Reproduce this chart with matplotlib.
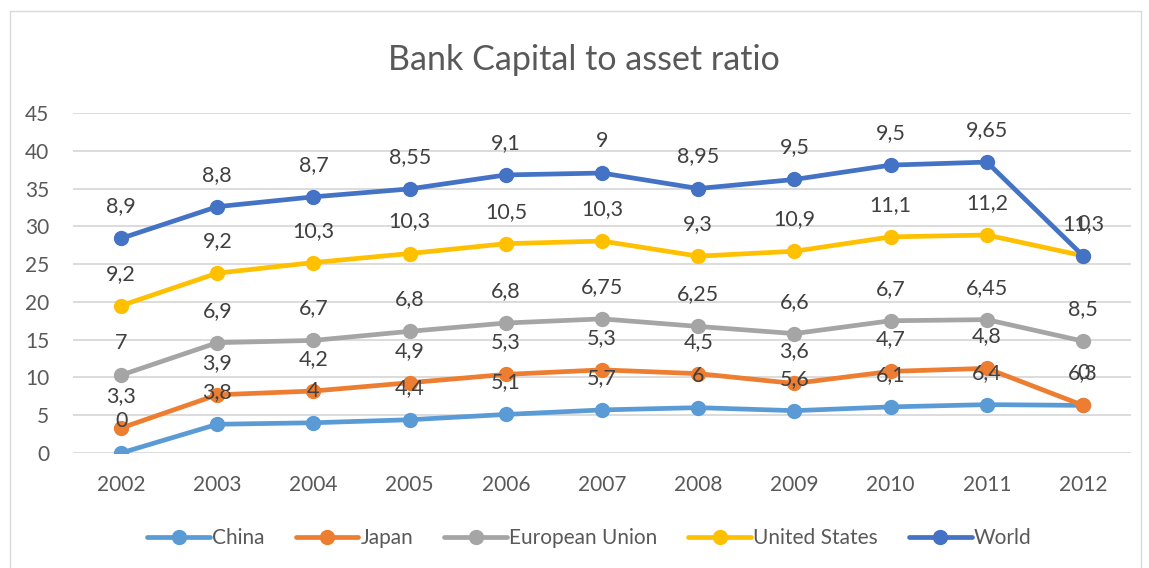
import numpy as np
import matplotlib.pyplot as plt
from matplotlib.patches import Rectangle

plt.rcParams['font.family'] = ['Lato', 'DejaVu Sans']

years = ["2002", "2003", "2004", "2005", "2006", "2007", "2008", "2009", "2010", "2011", "2012"]

china = [0, 3.8, 4, 4.4, 5.1, 5.7, 6, 5.6, 6.1, 6.4, 6.3]
japan = [3.3, 3.9, 4.2, 4.9, 5.3, 5.3, 4.5, 3.6, 4.7, 4.8, 0]
eu = [7, 6.9, 6.7, 6.8, 6.8, 6.75, 6.25, 6.6, 6.7, 6.45, 8.5]
us = [9.2, 9.2, 10.3, 10.3, 10.5, 10.3, 9.3, 10.9, 11.1, 11.2, 11.3]
world = [8.9, 8.8, 8.7, 8.55, 9.1, 9, 8.95, 9.5, 9.5, 9.65, 0]

series = [
    ("China", china, "#5B9BD5"),
    ("Japan", japan, "#ED7D31"),
    ("European Union", eu, "#A5A5A5"),
    ("United States", us, "#FFC000"),
    ("World", world, "#4472C4"),
]

text_color = "#595959"


def fmt(v):
    s = f"{v:g}"
    return s.replace(".", ",")


fig = plt.figure(figsize=(11.49, 5.68), dpi=100)
ax = fig.add_axes([0.0635, 0.2025, 0.921, 0.5986])

x = np.arange(len(years))
bottom = np.zeros(len(years))
for name, vals, color in series:
    top = bottom + np.array(vals)
    ax.plot(x, top, color=color, lw=3.4, marker="o", ms=10, label=name,
            solid_capstyle="round", zorder=3)
    # Excel-style labels: value of the series, placed above the stacked point
    for xi, yi, v in zip(x, top, vals):
        ax.annotate(fmt(v), (xi, yi), xytext=(0, 23), textcoords="offset points",
                    ha="center", va="center", fontsize=15.5, color="#404040", zorder=4)
    bottom = top

ax.set_xlim(-0.5, len(years) - 0.5)
ax.set_ylim(0, 45)
ax.set_yticks(range(0, 46, 5))
ax.set_xticks(x)
ax.set_xticklabels(years)
ax.grid(axis="y", color="#D9D9D9", lw=1.3)
ax.set_axisbelow(True)
for s in ax.spines.values():
    s.set_visible(False)
ax.tick_params(length=0, labelsize=15, colors=text_color)
ax.tick_params(axis="x", pad=16)
ax.tick_params(axis="y", pad=17)

fig.text(0.508, 0.895, "Bank Capital to asset ratio", ha="center", va="center",
         fontsize=24.5, color=text_color)

fig.legend(loc="center", bbox_to_anchor=(0.513, 0.053), ncol=5, frameon=False,
           fontsize=15, labelcolor=text_color, handlelength=3.0, handletextpad=0.1,
           columnspacing=1.5)

fig.patches.append(Rectangle((0.009, -0.01), 0.984, 0.99, transform=fig.transFigure,
                             fill=False, edgecolor="#D9D9D9", lw=1))

fig.savefig("out.png", dpi=100)
